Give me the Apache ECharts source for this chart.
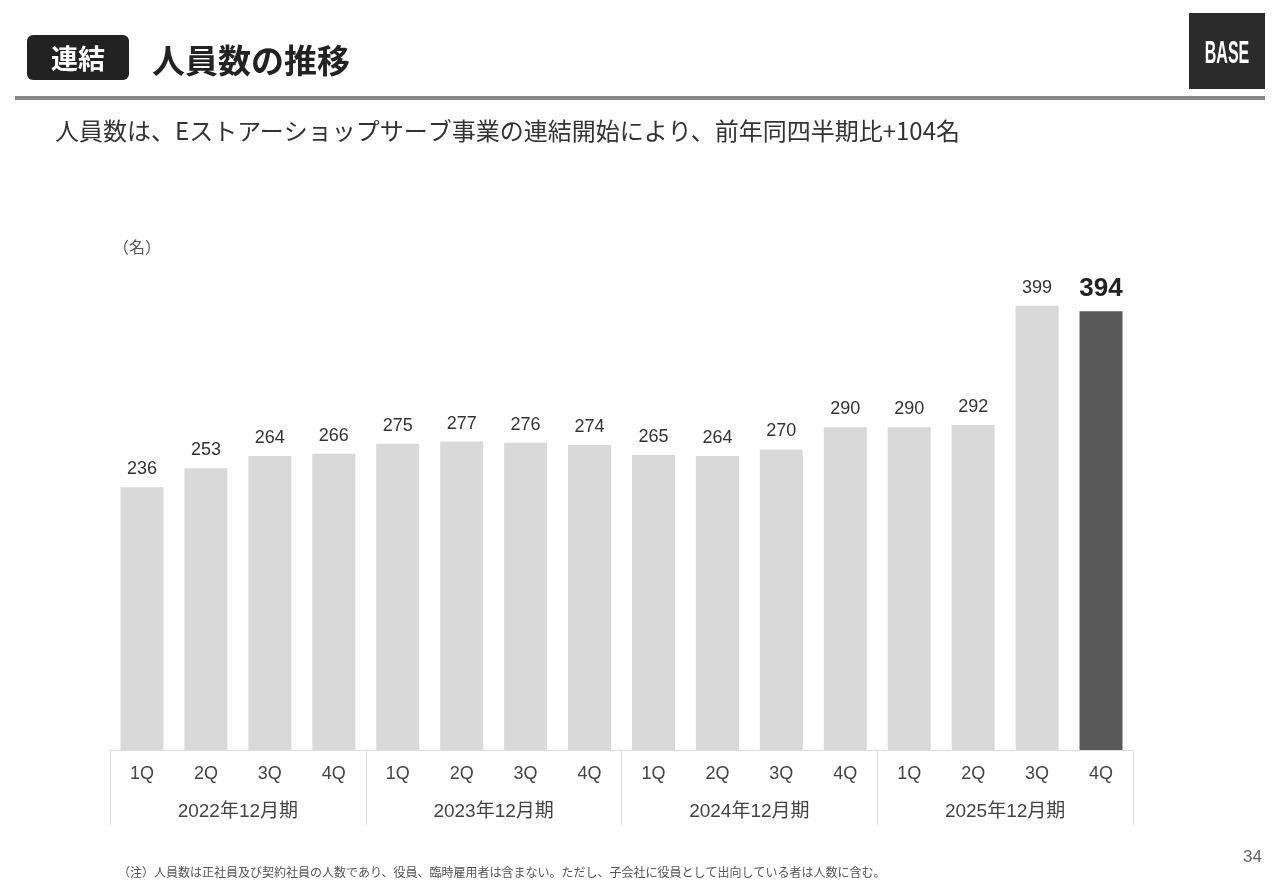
<!DOCTYPE html>
<html>
<head>
<meta charset="utf-8">
<script src="https://cdn.jsdelivr.net/npm/echarts@6/dist/echarts.min.js"></script>
<style>
html,body{margin:0;padding:0;background:#fff;}
#chart{width:1280px;height:886px;}
</style>
</head>
<body>
<div id="chart"></div>
<script>
const quarters = ['1Q','2Q','3Q','4Q','1Q','2Q','3Q','4Q','1Q','2Q','3Q','4Q','1Q','2Q','3Q','4Q'];
const years = ['2022年12月期','2023年12月期','2024年12月期','2025年12月期'];
const headcount = [236,253,264,266,275,277,276,274,265,264,270,290,290,292,399,394];

const FONT = '"Liberation Sans", "Noto Sans CJK JP", sans-serif';
const JP = '"Noto Sans CJK JP", "Liberation Sans", sans-serif';

const chart = echarts.init(document.getElementById('chart'));
const last = headcount.length - 1;
const seriesData = headcount.map((v, i) => i === last ? {
  value: v,
  itemStyle: {color: '#595959'},
  label: {fontSize: 26, fontWeight: 'bold', color: '#222', distance: 10}
} : {value: v});

chart.setOption({
  animation: false,
  backgroundColor: '#fff',
  textStyle: {fontFamily: FONT},
  grid: {left: 110, right: 147, top: 249, bottom: 136},
  xAxis: [{
    type: 'category',
    data: quarters,
    position: 'bottom',
    axisLine: {show: false},
    axisTick: {show: false},
    axisLabel: {margin: 15, fontSize: 18, color: '#444', fontFamily: FONT}
  }, {
    type: 'category',
    data: years,
    position: 'bottom',
    axisLine: {show: true, lineStyle: {color: '#dcdcdc', width: 1}},
    axisTick: {show: true, length: 75, lineStyle: {color: '#dcdcdc', width: 1}},
    axisLabel: {margin: 52, fontSize: 19, color: '#444', fontFamily: FONT}
  }],
  yAxis: {type: 'value', min: 0, max: 450, show: false},
  series: [{
    type: 'bar',
    xAxisIndex: 0,
    data: seriesData,
    barWidth: 43,
    itemStyle: {color: '#d9d9d9'},
    label: {show: true, position: 'top', distance: 9, fontSize: 18, color: '#333', fontFamily: FONT}
  }],
  graphic: [
    {type: 'rect', shape: {x: 27, y: 35, width: 102, height: 45, r: 6}, style: {fill: '#222'}},
    {type: 'text', x: 78, y: 59, style: {text: '連結', fill: '#fff', font: 'bold 27px ' + JP, align: 'center', verticalAlign: 'middle'}},
    {type: 'text', x: 152, y: 60, style: {text: '人員数の推移', fill: '#222', font: 'bold 33px ' + JP, verticalAlign: 'middle'}},
    {type: 'rect', shape: {x: 1189, y: 13, width: 76, height: 76}, style: {fill: '#2b2b2b'}},
    {type: 'group', x: 1227, y: 54, scaleX: 0.5, scaleY: 1, children: [
      {type: 'text', x: 0, y: 0, style: {text: 'BASE', fill: '#fff', font: 'bold 32px "Liberation Sans", sans-serif', align: 'center', verticalAlign: 'middle'}}
    ]},
    {type: 'rect', shape: {x: 15, y: 96, width: 1250, height: 4}, style: {fill: '#888'}},
    {type: 'text', x: 55, y: 131, style: {text: '人員数は、Eストアーショップサーブ事業の連結開始により、前年同四半期比+104名', fill: '#333', font: '24px ' + JP, verticalAlign: 'middle'}},
    {type: 'text', x: 113, y: 247, style: {text: '（名）', fill: '#555', font: '16px ' + JP, verticalAlign: 'middle'}},
    {type: 'text', x: 118, y: 872, style: {text: '（注）人員数は正社員及び契約社員の人数であり、役員、臨時雇用者は含まない。ただし、子会社に役員として出向している者は人数に含む。', fill: '#555', font: '12px ' + JP, verticalAlign: 'middle'}},
    {type: 'text', x: 1262, y: 857, style: {text: '34', fill: '#666', font: '17px ' + FONT, align: 'right', verticalAlign: 'middle'}}
  ]
});
</script>
</body>
</html>
